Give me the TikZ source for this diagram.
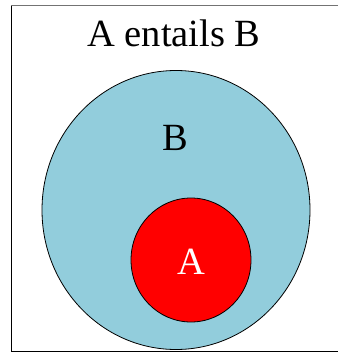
\documentclass[tikz,border=0pt]{standalone}
\usepackage{fontspec}
\setmainfont{Liberation Serif}
\usetikzlibrary{positioning, shapes.geometric}
\definecolor{setblue}{RGB}{146,205,220}

\begin{document}
\begin{tikzpicture}[
  x=1pt, y=-1pt,
  every node/.style={font=\fontsize{38.5}{40}\selectfont, inner sep=0pt},
  setshape/.style={ellipse, draw=black, line width=0.8pt},
  frameline/.style={line width=1pt},
]
  \useasboundingbox (0,0) rectangle (338,353);
  % frame, open on the right
  \draw[frameline, black!55] (338,6) -- (11,6);
  \draw[frameline] (11,6) -- (11,351) -- (338,351);
  \node[anchor=base] (title) at (174,46.7) {A entails B};
  \node[setshape, fill=setblue, minimum width=268pt, minimum height=279pt] (setB) at (176,210) {};
  \node[setshape, fill=red, minimum width=120pt, minimum height=124pt] (setA) at (191,260) {};
  \node[anchor=base] (labB) at (175,150.7) {B};
  \node[anchor=base, white] (labA) at (191,274) {A};
\end{tikzpicture}
\end{document}
